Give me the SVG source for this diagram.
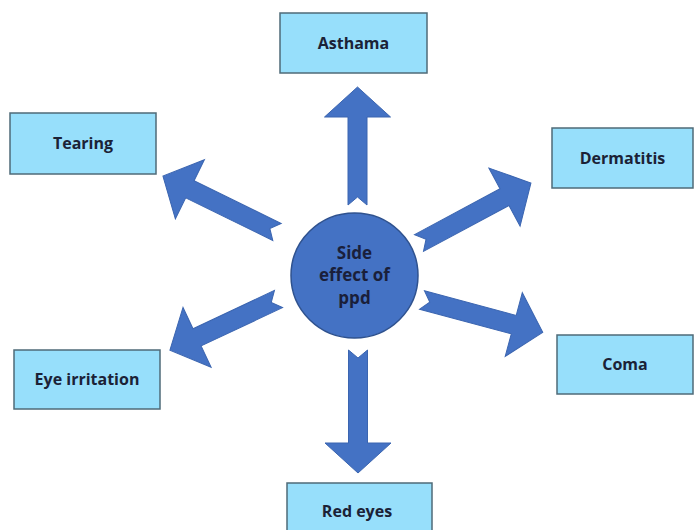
<svg xmlns="http://www.w3.org/2000/svg" width="695" height="530" viewBox="0 0 695 530">
<style>
.box{fill:#97DFFB;stroke:#4F6B78;stroke-width:1.5}
.lbl{font-family:"Open Sans","Liberation Sans",sans-serif;font-weight:bold;font-size:16px;fill:#1B2236;text-anchor:middle;dominant-baseline:central}
.arr{fill:#4472C4;stroke:#3B65B0;stroke-width:1}
.ctr{fill:#4472C4;stroke:#2F528F;stroke-width:1.5}
.ctxt{font-family:"Open Sans","Liberation Sans",sans-serif;font-weight:bold;font-size:17px;fill:#1A1F3A;text-anchor:middle;dominant-baseline:central}
</style>
<rect width="695" height="530" fill="#FFFFFF"/>
<g id="connectors">
<polygon class="arr" transform="translate(357.5,205) rotate(-90)" points="0,-9.5 88,-9.5 88,-33 118,0 88,33 88,9.5 0,9.5 8,0"/>
<polygon class="arr" transform="translate(277,232) rotate(-153.9)" points="0,-9.5 97,-9.5 97,-33 127,0 97,33 97,9.5 0,9.5 8,0"/>
<polygon class="arr" transform="translate(419,243) rotate(-28.2)" points="0,-9.5 97,-9.5 97,-33 127,0 97,33 97,9.5 0,9.5 8,0"/>
<polygon class="arr" transform="translate(422,300) rotate(15)" points="0,-9.5 95,-9.5 95,-33 125,0 95,33 95,9.5 0,9.5 8,0"/>
<polygon class="arr" transform="translate(278.5,299) rotate(154.8)" points="0,-9.5 90,-9.5 90,-33 120,0 90,33 90,9.5 0,9.5 8,0"/>
<polygon class="arr" transform="translate(358,350) rotate(90)" points="0,-9.5 93,-9.5 93,-33 123,0 93,33 93,9.5 0,9.5 8,0"/>
</g>
<g id="center">
<ellipse class="ctr" cx="354.5" cy="275.5" rx="63.5" ry="62.5"/>
<text class="ctxt" x="354.5" y="252">Side</text>
<text class="ctxt" x="354.5" y="274">effect of</text>
<text class="ctxt" x="354.5" y="297">ppd</text>
</g>
<g id="asthama">
<rect class="box" x="280" y="13" width="147" height="60"/>
<text class="lbl" x="353.5" y="43">Asthama</text>
</g>
<g id="tearing">
<rect class="box" x="10" y="113" width="146" height="61"/>
<text class="lbl" x="83" y="143">Tearing</text>
</g>
<g id="dermatitis">
<rect class="box" x="552" y="128" width="141" height="60"/>
<text class="lbl" x="622.5" y="158">Dermatitis</text>
</g>
<g id="coma">
<rect class="box" x="557" y="335" width="136" height="59"/>
<text class="lbl" x="625" y="364">Coma</text>
</g>
<g id="eye-irritation">
<rect class="box" x="14" y="350" width="146" height="59"/>
<text class="lbl" x="87" y="379">Eye irritation</text>
</g>
<g id="red-eyes">
<rect class="box" x="287" y="483" width="145" height="60"/>
<text class="lbl" x="357" y="511">Red eyes</text>
</g>
</svg>
